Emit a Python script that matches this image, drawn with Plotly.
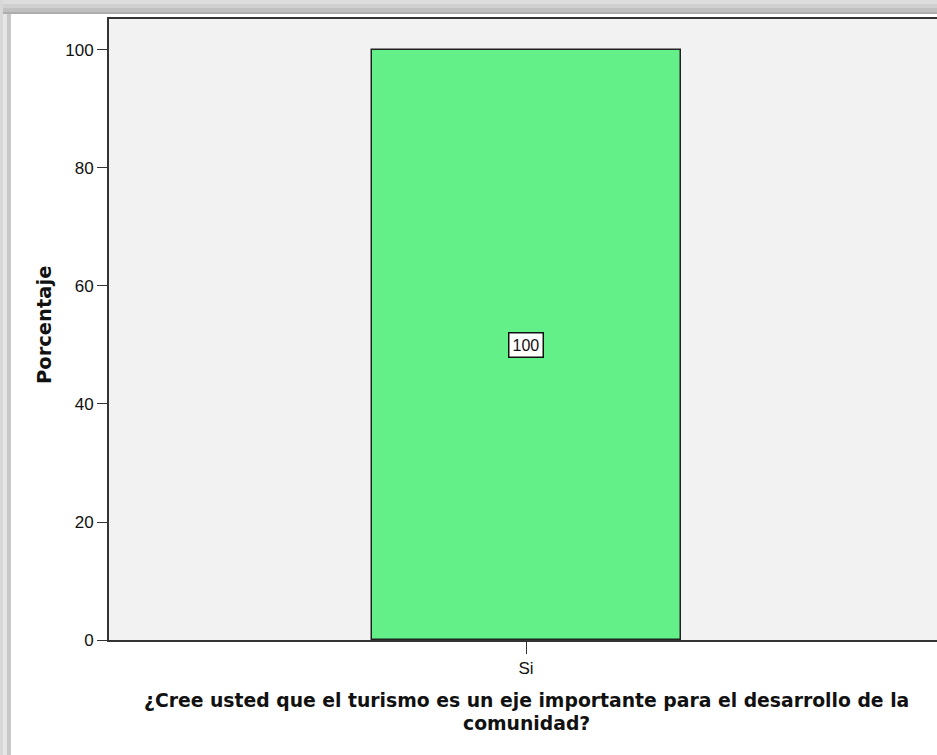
import plotly.graph_objects as go

categories = ["Si"]
percentages = [100]
bar_labels = ["100"]
y_ticks = [0, 20, 40, 60, 80, 100]

W, H = 937, 755
L, R, T, B = 109, 0, 19, 115
PW, PH = W - L - R, H - T - B


def px(x):
    return (x - L) / PW


def py(y):
    return (H - B - y) / PH


xs = list(range(len(categories)))

fig = go.Figure()
fig.add_trace(go.Bar(
    x=xs, y=percentages, width=0.3705,
    marker=dict(color="#64F088", line=dict(color="#222222", width=1.5)),
    hoverinfo="skip",
))

for xi, v, lab in zip(xs, percentages, bar_labels):
    fig.add_annotation(
        x=xi, y=v / 2, xref="x", yref="y", text=lab, showarrow=False,
        font=dict(family="Liberation Sans", size=16, color="#111111"),
        bgcolor="white", bordercolor="#111111", borderwidth=1.5, borderpad=3,
    )

tick_font = dict(family="Liberation Sans", size=17, color="#111111")

fig.update_xaxes(
    range=[-0.5, 0.4928], tickvals=xs, ticktext=categories,
    showline=True, linecolor="#333333", linewidth=2, mirror=True,
    ticks="outside", ticklen=12, tickwidth=1, tickcolor="#333333",
    showgrid=False, zeroline=False, tickfont=tick_font, fixedrange=True,
)
fig.update_yaxes(
    range=[0, 105.25], tickvals=y_ticks,
    showline=True, linecolor="#333333", linewidth=2, mirror=False,
    ticks="outside", ticklen=10, tickwidth=1, tickcolor="#333333",
    showgrid=False, zeroline=False, tickfont=tick_font, fixedrange=True,
)

title_font = dict(family="DejaVu Sans", size=18.8, color="#111111")
fig.add_annotation(
    x=px(526), y=py(700), xref="paper", yref="paper", showarrow=False,
    text="<b>¿Cree usted que el turismo es un eje importante para el desarrollo de la</b>",
    font=title_font, xanchor="center", yanchor="middle",
)
fig.add_annotation(
    x=px(526), y=py(723), xref="paper", yref="paper", showarrow=False,
    text="<b>comunidad?</b>",
    font=title_font, xanchor="center", yanchor="middle",
)
fig.add_annotation(
    x=px(44), y=py(325), xref="paper", yref="paper", showarrow=False,
    text="<b>Porcentaje</b>", textangle=-90,
    font=dict(family="DejaVu Sans", size=19.5, color="#111111"),
    xanchor="center", yanchor="middle",
)

# outer gray frame (top and left bands)
bands_top = [(0, 4, "#DDDDDD"), (4, 8, "#D0D0D0"), (8, 12, "#C0C0C0"), (12, 14, "#ADADAD")]
bands_left = [(0, 3, "#D8D8D8"), (3, 7, "#E6E6E6"), (7, 11, "#C8C8C8")]
shapes = []
for y0, y1, c in bands_top:
    shapes.append(dict(type="rect", xref="paper", yref="paper", x0=px(0), x1=px(W),
                       y0=py(y1), y1=py(y0), fillcolor=c, line=dict(width=0), layer="above"))
for x0, x1, c in bands_left:
    shapes.append(dict(type="rect", xref="paper", yref="paper", x0=px(x0), x1=px(x1),
                       y0=py(H), y1=py(14 if x0 > 0 else 0), fillcolor=c, line=dict(width=0), layer="above"))
fig.update_layout(shapes=shapes)

fig.update_layout(
    width=W, height=H, margin=dict(l=L, r=R, t=T, b=B, pad=0),
    paper_bgcolor="white", plot_bgcolor="#F2F2F2",
    showlegend=False, bargap=0,
)

fig.write_html(
    "out.html",
    config={"displayModeBar": False},
    post_script="document.body.style.margin='0';document.body.style.overflow='hidden';",
)
